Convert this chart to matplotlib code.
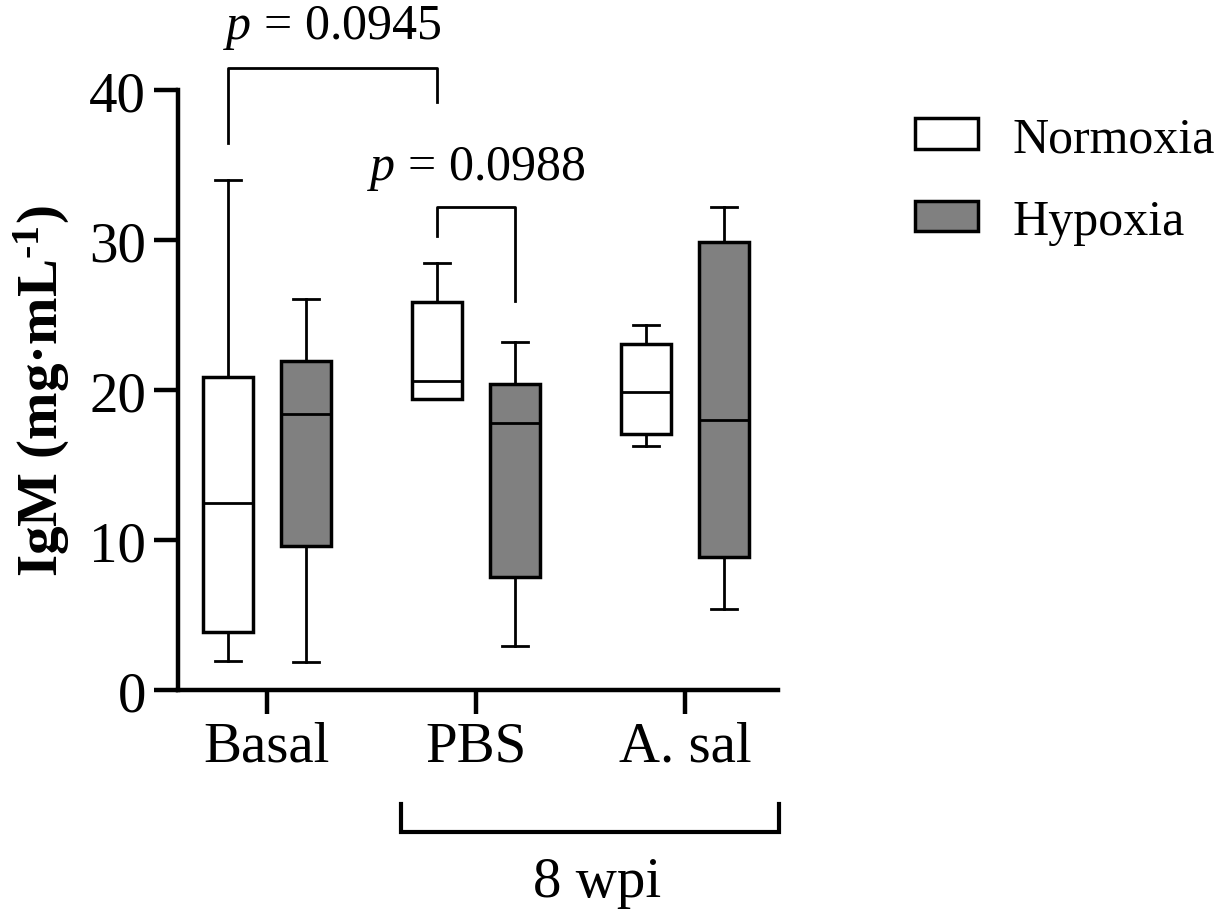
import matplotlib
matplotlib.use("Agg")
import matplotlib.pyplot as plt
from matplotlib.patches import Patch

plt.rcParams['font.family'] = ['Liberation Serif', 'DejaVu Serif']
plt.rcParams['mathtext.fontset'] = 'custom'
plt.rcParams['mathtext.rm'] = 'Liberation Serif'
plt.rcParams['mathtext.it'] = 'Liberation Serif:italic'
plt.rcParams['mathtext.bf'] = 'Liberation Serif:bold'

# data
groups = ['Basal', 'PBS', 'A. sal']
norm_min = [1.95, 19.4, 16.25]
norm_q1 = [3.85, 19.4, 17.1]
norm_med = [12.5, 20.6, 19.85]
norm_q3 = [20.9, 25.9, 23.1]
norm_max = [34.0, 28.45, 24.35]

hyp_min = [1.85, 2.95, 5.4]
hyp_q1 = [9.6, 7.55, 8.85]
hyp_med = [18.4, 17.8, 18.0]
hyp_q3 = [21.95, 20.4, 29.85]
hyp_max = [26.05, 23.2, 32.2]

# significance brackets: (group a, group b, top, left leg end, right leg end, text, text y)
brackets = [
    ((0, 'N'), (1, 'N'), 41.5, 36.5, 39.2, '$p$ = 0.0945', 43.45),
    ((1, 'N'), (1, 'H'), 32.2, 30.3, 25.95, '$p$ = 0.0988', 34.1),
]

off = 0.187
bw = 0.24


def stats(mins, q1, med, q3, maxs):
    return [dict(whislo=a, q1=b, med=c, q3=d, whishi=e, fliers=[])
            for a, b, c, d, e in zip(mins, q1, med, q3, maxs)]


fig = plt.figure(figsize=(12.24, 9.12), dpi=100)
ax = fig.add_axes([0.1454, 0.2423, 0.4902, 0.6579])

pos = list(range(len(groups)))
common = dict(widths=bw, capwidths=0.125, patch_artist=True, showfliers=False,
              whiskerprops=dict(color='black', linewidth=2.0),
              capprops=dict(color='black', linewidth=2.0),
              medianprops=dict(color='black', linewidth=2.0))

ax.bxp(stats(norm_min, norm_q1, norm_med, norm_q3, norm_max),
       positions=[p - off for p in pos],
       boxprops=dict(facecolor='white', edgecolor='black', linewidth=2.5),
       **common)
ax.bxp(stats(hyp_min, hyp_q1, hyp_med, hyp_q3, hyp_max),
       positions=[p + off for p in pos],
       boxprops=dict(facecolor='#808080', edgecolor='black', linewidth=2.5),
       **common)

ax.set_xlim(-0.426, 2.445)
ax.set_ylim(0, 40)
ax.set_xticks(pos)
ax.set_xticklabels(groups)
ax.set_yticks([0, 10, 20, 30, 40])

for s in ['top', 'right']:
    ax.spines[s].set_visible(False)
for s in ['left', 'bottom']:
    ax.spines[s].set_linewidth(3.2)
ax.tick_params(axis='both', labelsize=41, length=17, width=3.2)
ax.tick_params(axis='y', pad=6)
ax.tick_params(axis='x', pad=5)

ax.set_ylabel('IgM (mg·mL$^{\\mathbf{\u2010 1}}$)', fontsize=41, fontweight='bold')
ax.yaxis.set_label_coords(-0.177, 0.5)


def xpos(g):
    return g[0] + (-off if g[1] == 'N' else off)


for a, b, top, la, lb, txt, ty in brackets:
    xa, xb = xpos(a), xpos(b)
    ax.plot([xa, xa, xb, xb], [la, top, top, lb], color='black',
            linewidth=2.0, clip_on=False)
    ax.text((xa + xb) / 2, ty, txt, fontsize=36, ha='center', va='baseline')

# 8 wpi bracket under PBS and A. sal
ax.plot([0.64, 0.64, 2.45, 2.45], [-7.6, -9.45, -9.45, -7.6], color='black',
        linewidth=3.0, clip_on=False, solid_joinstyle='miter')
ax.text(1.58, -13.7, '8 wpi', fontsize=41, ha='center', va='baseline')

handles = [Patch(facecolor='white', edgecolor='black', linewidth=2.5, label='Normoxia'),
           Patch(facecolor='#808080', edgecolor='black', linewidth=2.5, label='Hypoxia')]
fig.legend(handles=handles, loc='upper left', bbox_to_anchor=(0.7475, 0.872),
           frameon=False, fontsize=36, borderpad=0, borderaxespad=0,
           handlelength=1.26, handleheight=0.56, handletextpad=0.7,
           labelspacing=0.72)

fig.savefig('out.png', dpi=100)
